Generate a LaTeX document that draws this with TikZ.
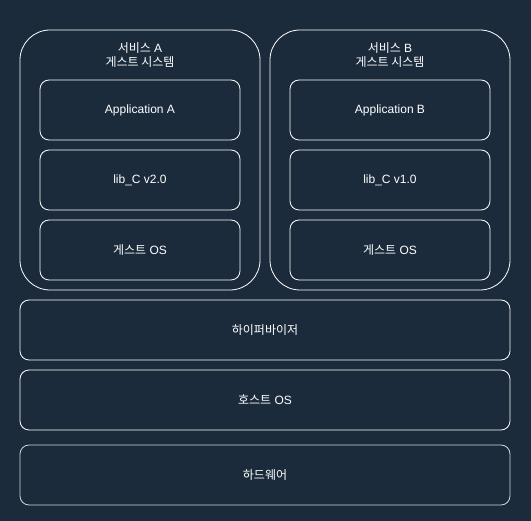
\documentclass[tikz,border=0pt]{standalone}
\usepackage{fontspec}
\setmainfont{Liberation Sans}
\newfontfamily\kr{Noto Sans CJK KR}
\definecolor{bgnavy}{RGB}{27,43,60}
\begin{document}
\begin{tikzpicture}[x=1pt, y=-1pt,
	box/.style={draw=white, line width=0.8pt, rounded corners=9pt, text=white,
		font=\fontsize{12}{14}\selectfont, minimum width=200pt, minimum height=60pt, inner sep=0pt},
	guestbox/.style={draw=white, line width=0.8pt, rounded corners=30pt,
		minimum width=240pt, minimum height=260pt, inner sep=0pt},
	layerbox/.style={box, minimum width=490pt},
	title/.style={text=white, align=center, font=\fontsize{12}{14}\selectfont, inner sep=0pt}]
	\fill[bgnavy] (0,0) rectangle (531,521);
	% guest systems
	\node[guestbox] (guestA) at (140,160) {};
	\node[guestbox] (guestB) at (390,160) {};
	\node[title, anchor=north] (titleA) at (140,42.5) {{\kr 서비스} A\\{\kr 게스트 시스템}};
	\node[title, anchor=north] (titleB) at (390,42.5) {{\kr 서비스} B\\{\kr 게스트 시스템}};
	% inner layers
	\node[box] (appA) at (140,110) {Application A};
	\node[box] (libA) at (140,180) {lib\_C v2.0};
	\node[box] (osA) at (140,250) {{\kr 게스트} OS};
	\node[box] (appB) at (390,110) {Application B};
	\node[box] (libB) at (390,180) {lib\_C v1.0};
	\node[box] (osB) at (390,250) {{\kr 게스트} OS};
	% shared layers
	\node[layerbox] (hyper) at (265,330) {\kr 하이퍼바이저};
	\node[layerbox] (host) at (265,400) {{\kr 호스트} OS};
	\node[layerbox, draw=white!80!bgnavy] (hw) at (265,475) {\kr 하드웨어};
\end{tikzpicture}
\end{document}
